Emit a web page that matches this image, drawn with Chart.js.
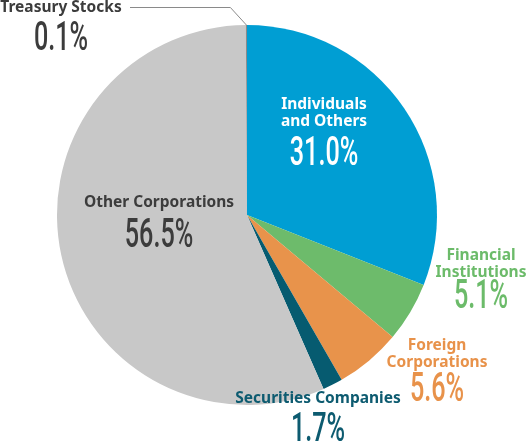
<!DOCTYPE html>
<html>
<head>
<meta charset="utf-8">
<script src="https://cdn.jsdelivr.net/npm/chart.js@4/dist/chart.umd.min.js"></script>
<style>
  html, body { margin: 0; padding: 0; background: #fff; }
  #wrap { width: 527px; height: 447px; }
</style>
</head>
<body>
<div id="wrap"><canvas id="grafico" width="527" height="447"></canvas></div>
<script>
// Dados do gráfico
var categorias = ['Individuals and Others', 'Financial Institutions', 'Foreign Corporations',
                  'Securities Companies', 'Other Corporations', 'Treasury Stocks'];
var percentuais = [31.0, 5.1, 5.6, 1.7, 56.5, 0.1];
var rotulosValor = ['31.0%', '5.1%', '5.6%', '1.7%', '56.5%', '0.1%'];
var rotulosNome = [['Individuals', 'and Others'], ['Financial', 'Institutions'], ['Foreign', 'Corporations'],
                   ['Securities Companies'], ['Other Corporations'], ['Treasury Stocks']];

var cores = ['#009ed3', '#6dbb6b', '#e8934b', '#065b70', '#c8c8c8', '#8a8a8a'];
var coresTexto = ['#ffffff', '#6cbb6a', '#e8924a', '#0d5b70', '#3c3c3c', '#3c3c3c'];

// Posição dos rótulos (centro do nome e do valor)
var posRotulos = [
    { x: 324, y: 105, vy: 155 },
    { x: 481, y: 256, vy: 298 },
    { x: 437, y: 346, vy: 391 },
    { x: 318, y: 399, vy: 431 },
    { x: 159, y: 203, vy: 237 },
    { x: 61, y: 8, vy: 40 }
];

var fonteNome = 'bold 15.5px "Noto Sans", "Open Sans", sans-serif';

// Plugin para desenhar rótulos e a linha do "Treasury Stocks"
var pluginRotulos = {
    id: 'rotulos',
    afterDatasetsDraw: function (chart) {
        var ctx = chart.ctx;
        var arcs = chart.getDatasetMeta(0).data;
        ctx.save();
        ctx.textAlign = 'center';
        ctx.textBaseline = 'middle';

        // linha guia do último segmento
        var ultimo = arcs[arcs.length - 1];
        var meio = (ultimo.startAngle + ultimo.endAngle) / 2;
        var px = ultimo.x + Math.cos(meio) * ultimo.outerRadius;
        var py = ultimo.y + Math.sin(meio) * ultimo.outerRadius;
        ctx.strokeStyle = '#8a8a8a';
        ctx.lineWidth = 1;
        ctx.beginPath();
        ctx.moveTo(px, py);
        ctx.lineTo(px - 16, 7.5);
        ctx.lineTo(130, 7.5);
        ctx.stroke();

        for (var i = 0; i < categorias.length; i++) {
            var p = posRotulos[i];
            ctx.fillStyle = coresTexto[i];
            ctx.font = fonteNome;
            var linhas = rotulosNome[i];
            for (var j = 0; j < linhas.length; j++) {
                ctx.fillText(linhas[j], p.x, p.y + j * 17);
            }
            // valor em fonte condensada
            ctx.save();
            ctx.translate(p.x, p.vy);
            ctx.scale(0.63, 1);
            ctx.font = '500 40px Roboto, "Noto Sans", sans-serif';
            ctx.fillText(rotulosValor[i], 0, 0);
            ctx.restore();
        }
        ctx.restore();
    }
};

var ctx = document.getElementById('grafico').getContext('2d');
var myChart = new Chart(ctx, {
    type: 'pie',
    data: {
        labels: categorias,
        datasets: [{
            data: percentuais,
            backgroundColor: cores,
            borderWidth: 0
        }]
    },
    options: {
        responsive: false,
        animation: false,
        layout: {
            padding: { left: 57, right: 90, top: 25, bottom: 42 }
        },
        plugins: {
            legend: { display: false },
            tooltip: { enabled: false }
        }
    },
    plugins: [pluginRotulos]
});
</script>
</body>
</html>
